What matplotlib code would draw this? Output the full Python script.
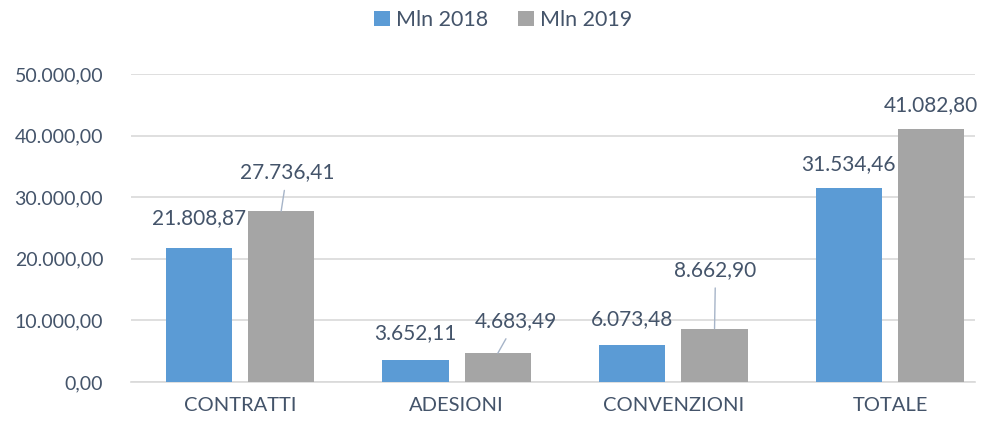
import numpy as np
import matplotlib
matplotlib.use("Agg")
import matplotlib.pyplot as plt

plt.rcParams['font.family'] = ['Lato', 'DejaVu Sans']

categories = ["CONTRATTI", "ADESIONI", "CONVENZIONI", "TOTALE"]
mln_2018 = [21808.87, 3652.11, 6073.48, 31534.46]
mln_2019 = [27736.41, 4683.49, 8662.90, 41082.80]
series_names = ["Mln 2018", "Mln 2019"]
y_ticks = [0, 10000, 20000, 30000, 40000, 50000]

BLUE = "#5B9BD5"
GRAY = "#A5A5A5"
TEXT = "#44546A"


def fmt_it(v):
    """ Italian number format: 12.345,67 """
    s = "{:,.2f}".format(v)
    return s.replace(",", "X").replace(".", ",").replace("X", ".")


fig = plt.figure(figsize=(9.86, 4.23), dpi=100)
ax = fig.add_axes([131 / 986, (423 - 382) / 423, 844 / 986, (382 - 74) / 423])

x = np.arange(len(categories))
w = 0.305
off = 0.19
b1 = ax.bar(x - off, mln_2018, w, color=BLUE, label=series_names[0], zorder=3)
b2 = ax.bar(x + off, mln_2019, w, color=GRAY, label=series_names[1], zorder=3)

ax.set_xlim(-0.503, 3.392)
ax.set_ylim(0, 50000)
ax.set_yticks(y_ticks)
ax.set_yticklabels([fmt_it(t) for t in y_ticks])
ax.set_xticks(x)
ax.set_xticklabels(categories)
ax.tick_params(axis="y", length=0, pad=20, labelsize=14, labelcolor=TEXT)
ax.tick_params(axis="x", length=0, pad=11, labelsize=14.5, labelcolor=TEXT)
ax.grid(axis="y", color="#D9D9D9", linewidth=1.2, zorder=0)
for side in ["top", "right", "left"]:
    ax.spines[side].set_visible(False)
ax.spines["bottom"].set_color("#D9D9D9")
ax.spines["bottom"].set_linewidth(1.2)

# data labels (offsets in pixels from bar top)
blue_offsets = [(0, 30), (0, 26), (0, 25), (0, 24)]
gray_offsets = [(6, 39), (18, 32), (1, 59), (0, 24)]
gray_leader = [True, True, True, False]

for i, v in enumerate(mln_2018):
    ax.annotate(fmt_it(v), (x[i] - off, v), xytext=blue_offsets[i],
                textcoords="offset pixels", ha="center", va="center",
                fontsize=15, color=TEXT)
for i, v in enumerate(mln_2019):
    props = None
    if gray_leader[i]:
        props = dict(arrowstyle="-", color="#A6B4C8", lw=1, shrinkA=4, shrinkB=0)
    ax.annotate(fmt_it(v), (x[i] + off, v), xytext=gray_offsets[i],
                textcoords="offset pixels", ha="center", va="center",
                fontsize=15, color=TEXT, arrowprops=props)

fig.legend(handles=[b1, b2], labels=series_names, loc="center",
           bbox_to_anchor=(503 / 986, 1 - 20 / 423), ncol=2, frameon=False,
           fontsize=15.5, labelcolor=TEXT, handlelength=0.75, handleheight=0.75,
           handletextpad=0.25, columnspacing=1.4)

fig.savefig("out.png", dpi=100)
